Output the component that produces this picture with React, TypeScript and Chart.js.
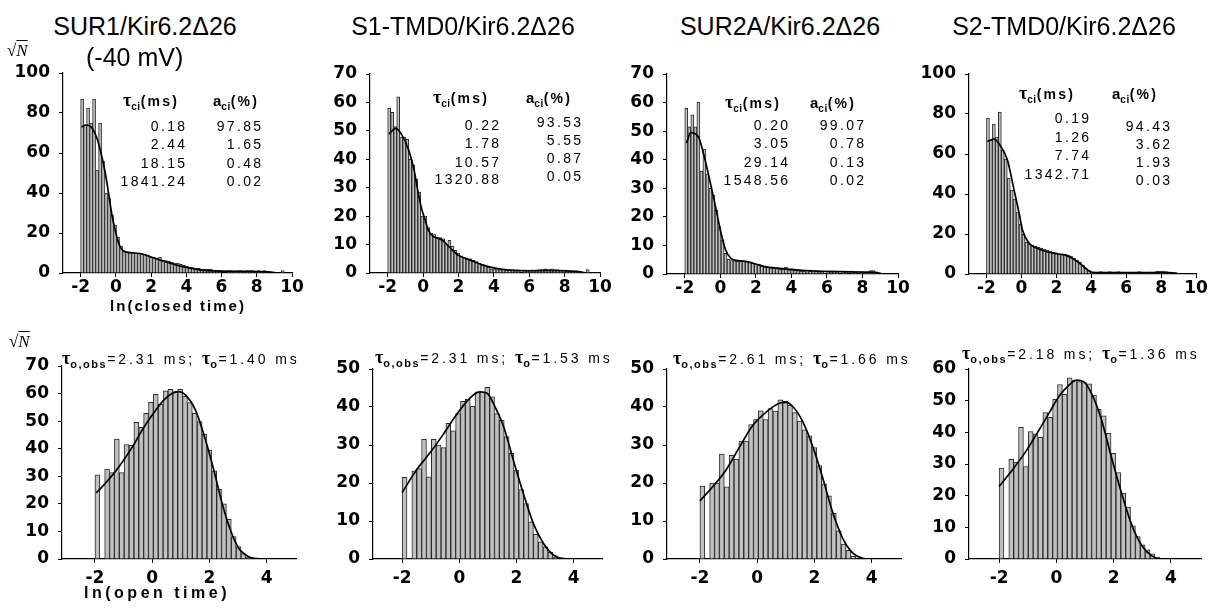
import React, { useEffect, useRef } from 'react';
import { Chart, registerables } from 'chart.js';

Chart.register(...registerables);

// ---------- data ----------
const BIN_START = -2;
const BIN_WIDTH = 0.17;

const closedTicks = [-2, 0, 2, 4, 6, 8, 10];
const openTicks = [-2, 0, 2, 4];

const titles = ['SUR1/Kir6.2\u039426', 'S1-TMD0/Kir6.2\u039426', 'SUR2A/Kir6.2\u039426', 'S2-TMD0/Kir6.2\u039426'];

// closed-time histograms (sqrt N per bin)
const sur1Closed = [87, 74, 82.5, 75, 87, 51.5, 75, 56, 40, 37.5, 29, 24, 18, 13.5, 11, 10.5, 10.5, 10.5, 10, 10, 9.5, 9.5, 9, 8, 8, 7.5, 7.8, 6.5, 6.2, 6, 5.5, 5, 5, 4.3, 3.8, 3.5, 3, 2.7, 2.5, 2.3, 2, 1.8, 1.8, 1.8, 1.5, 1.5, 1.2, 0, 0, 1.2, 1.2, 1, 1.2, 1.2, 1, 1.2, 1.2, 1.2, 1, 1.2, 1, 1.2, 0.8, 0.5, 0, 0, 0, 1.2];
const sur1ClosedFitX = [-1.95, -1.7, -1.4, -1.1, -0.9, -0.6, -0.4, -0.2, 0, 0.2, 0.4, 0.7, 1.0, 1.5, 2.0, 2.5, 3.0, 3.5, 4.0, 4.5, 5.0, 5.5, 6.0, 7.0, 8.0, 8.8, 9.1];
const sur1ClosedFitY = [73, 74, 73, 68, 62, 50, 39, 28, 20, 14, 11.2, 10.3, 10, 9.5, 8, 6.5, 5.2, 3.8, 2.8, 2, 1.3, 1, 0.9, 0.8, 0.7, 0.4, 0];

const s1Closed = [58, 56.5, 51.5, 62, 47.8, 47.8, 47, 40, 38, 33, 28.5, 20, 20, 16, 14, 13.5, 12.5, 12.5, 12, 10, 11.5, 9.5, 8, 7, 6, 5.5, 5, 5, 4.5, 4, 3.5, 3, 2.5, 2, 1.5, 1.5, 1.2, 1.2, 1.2, 1, 1, 0.8, 0.8, 1, 0, 1, 0.8, 1, 1, 1, 1.2, 1.2, 1.5, 1.2, 1.5, 1.2, 1.2, 1, 1, 0.8, 0.5, 0.5, 0.5, 0.3, 0, 0, 1.2];
const s1ClosedFitX = [-1.93, -1.55, -1.2, -0.8, -0.5, -0.33, -0.1, 0.1, 0.3, 0.55, 0.85, 1.1, 1.5, 2.0, 2.6, 3.0, 3.5, 4.0, 4.5, 5.0, 6.0, 7.0, 8.0, 8.8, 9.2];
const s1ClosedFitY = [48.9, 50.9, 48.6, 43, 36, 30, 23, 19, 15, 13, 12.2, 11.5, 9, 6.2, 4.7, 3.7, 2.6, 1.8, 1.3, 1, 0.8, 0.9, 0.8, 0.5, 0];

const sur2aClosed = [58, 51.5, 55.7, 51.5, 60.2, 36, 43.7, 35, 30, 27.5, 22.4, 16.6, 12, 7.2, 5.1, 4.7, 4.6, 4.5, 4.5, 4.4, 4.3, 4, 3.8, 3.5, 3.2, 2.8, 2.6, 2.4, 2.2, 2, 1.9, 1.7, 1.6, 2.4, 1.5, 1.4, 1.3, 1.2, 1, 1, 0.8, 1, 0.5, 1, 0.8, 1, 0, 1, 0.8, 1, 0.8, 0, 1, 0.8, 0, 1, 0.8, 0, 0.8, 0.5, 0.8, 1.2, 1.2, 0.5, 0];
const sur2aClosedFitX = [-1.9, -1.67, -1.23, -0.94, -0.6, -0.27, 0, 0.3, 0.6, 1.0, 1.55, 2.0, 2.5, 3.3, 4.05, 4.8, 6.75, 8.7, 9.15];
const sur2aClosedFitY = [45.8, 49.5, 48, 42, 33, 23.6, 15.4, 8.4, 5.5, 4.7, 4.3, 3.5, 2.6, 2, 1.6, 1.2, 0.8, 0.6, 0];

const s2Closed = [78, 67, 75, 68.5, 81, 62, 57.5, 48, 42, 37.5, 31, 25, 20, 16, 15, 14.5, 14, 13.5, 13, 12.5, 12, 11.5, 11, 10.5, 10, 10, 10, 9.5, 9, 8, 7, 6, 4.5, 3, 2, 1, 1, 1, 1.2, 1, 1, 1.2, 1, 1, 1.2, 1, 1, 0.8, 1, 1, 1, 1.2, 1, 0.8, 1, 1, 1, 1.5, 1.5, 1.5, 1.2, 1, 1, 0.8, 0.5];
const s2ClosedFitX = [-1.95, -1.56, -1.18, -0.8, -0.42, -0.13, 0.06, 0.44, 0.9, 1.56, 2.13, 2.6, 3.08, 3.46, 3.93, 4.2, 5.9, 8.4, 9.0];
const s2ClosedFitY = [66.3, 67.4, 63.8, 57, 42, 30.4, 22, 15.4, 12.9, 10.9, 10, 9.2, 7, 4.5, 1.2, 0.7, 0.7, 0.7, 0];

// open-time histograms
const sur1Open = [30.5, 0, 32.6, 31.3, 43.5, 31.3, 41.5, 41.2, 49.6, 47.8, 52.8, 56.8, 59.7, 56.1, 61, 61.5, 60.7, 61.5, 59, 56.7, 52.8, 49.8, 45.3, 39.5, 32, 25.3, 20, 14.4, 8.1, 4.5, 2, 0.6];
const sur1OpenFitX = [-1.95, -1.63, -1.16, -0.7, -0.35, 0, 0.35, 0.7, 0.93, 1.16, 1.51, 1.86, 2.15, 2.44, 2.73, 3.02, 3.37, 3.72, 4.3];
const sur1OpenFitY = [24, 27.5, 33.5, 40.5, 46.8, 52.2, 57, 60.1, 60.7, 59.5, 54, 43.2, 32.3, 20.2, 10.5, 3.9, 0.85, 0.1, 0];

const s1Open = [21.5, 0, 23.2, 23.8, 31.5, 21.6, 31.5, 30, 29.3, 35.7, 33.7, 38.3, 41.5, 42, 40.2, 44, 44, 45.2, 42.7, 38.3, 36.5, 32.2, 27.8, 23.4, 18.3, 14.6, 9.8, 6.5, 4.5, 3.2, 1.8, 0.5];
const s1OpenFitX = [-2, -1.5, -1.04, -0.58, -0.11, 0.36, 0.71, 0.97, 1.22, 1.55, 1.89, 2.24, 2.59, 2.95, 3.3, 3.65, 4.0];
const s1OpenFitY = [17.5, 23.4, 27.8, 32.6, 37.9, 42.3, 44, 43.6, 40.5, 34.8, 26, 17.2, 9.3, 4, 1, 0.1, 0];

const sur2aOpen = [19.2, 0, 20, 20, 27.6, 19, 27.3, 26.3, 31, 31, 35.4, 36.7, 39, 36.7, 39.6, 38.9, 41.9, 41.5, 40.5, 38.5, 36.3, 34, 32.4, 29.3, 24.6, 19.8, 16.6, 12, 7.4, 3.9, 2.3, 0.7];
const sur2aOpenFitX = [-2, -1.57, -1.1, -0.63, -0.17, 0.3, 0.77, 1, 1.23, 1.58, 1.93, 2.28, 2.63, 2.98, 3.33, 3.68, 4.03];
const sur2aOpenFitY = [15.3, 18.9, 23.3, 29.3, 35, 38.6, 41, 41.2, 40.2, 36.3, 29.8, 21.5, 12.4, 5.5, 1.6, 0.2, 0];

const s2Open = [28.7, 0, 31.5, 30.6, 41.6, 29.2, 40.2, 39.5, 38.4, 46.2, 44.7, 50.4, 55.1, 52, 57.2, 56.5, 56, 55.7, 55.3, 51.8, 47.3, 45.2, 39.7, 33.4, 27.3, 20.8, 16.4, 10.5, 7.1, 4.5, 2.9, 1.6, 0.5];
const s2OpenFitX = [-2, -1.53, -1.07, -0.6, -0.26, 0.09, 0.44, 0.7, 0.95, 1.25, 1.58, 1.92, 2.27, 2.62, 2.97, 3.33, 3.7, 4.1];
const s2OpenFitY = [22.9, 28.2, 33.9, 40.8, 46, 51.3, 54.9, 56.5, 56, 51.8, 43.8, 32.2, 21, 11, 4.4, 1, 0, 0];

// fitted parameters (text)
const sur1Tau = ['0.18', '2.44', '18.15', '1841.24'];
const sur1Amp = ['97.85', '1.65', '0.48', '0.02'];
const s1Tau = ['0.22', '1.78', '10.57', '1320.88'];
const s1Amp = ['93.53', '5.55', '0.87', '0.05'];
const sur2aTau = ['0.20', '3.05', '29.14', '1548.56'];
const sur2aAmp = ['99.07', '0.78', '0.13', '0.02'];
const s2Tau = ['0.19', '1.26', '7.74', '1342.71'];
const s2Amp = ['94.43', '3.62', '1.93', '0.03'];
const openTauObs = ['2.31', '2.31', '2.61', '2.18'];
const openTau = ['1.40', '1.53', '1.66', '1.36'];

// ---------- layout ----------
const W = 1212;
const H = 608;
const SANS = '"Liberation Sans", Arial, Helvetica, sans-serif';
const SERIF = '"Liberation Serif", "Times New Roman", serif';
const TICK_FONT = { family: '"DejaVu Sans", sans-serif', weight: 'bold' as const, size: 17 };

type PanelSpec = {
  counts: number[];
  fitX: number[];
  fitY: number[];
  left: number;
  right: number;
  top: number;
  bottom: number;
  xMin: number;
  xMax: number;
  xTicks: number[];
  yMax: number;
  yStep: number;
  xPad: number;
};

const panels: PanelSpec[] = [
  { counts: sur1Closed, fitX: sur1ClosedFitX, fitY: sur1ClosedFitY, left: 63, right: 292, top: 73, bottom: 273, xMin: -3, xMax: 10, xTicks: closedTicks, yMax: 100, yStep: 20, xPad: 0 },
  { counts: s1Closed, fitX: s1ClosedFitX, fitY: s1ClosedFitY, left: 370, right: 600, top: 74, bottom: 273, xMin: -3, xMax: 10, xTicks: closedTicks, yMax: 70, yStep: 10, xPad: 0 },
  { counts: sur2aClosed, fitX: sur2aClosedFitX, fitY: sur2aClosedFitY, left: 667, right: 898, top: 74, bottom: 274, xMin: -3, xMax: 10, xTicks: closedTicks, yMax: 70, yStep: 10, xPad: 0 },
  { counts: s2Closed, fitX: s2ClosedFitX, fitY: s2ClosedFitY, left: 969, right: 1196, top: 74, bottom: 274, xMin: -3, xMax: 10, xTicks: closedTicks, yMax: 100, yStep: 20, xPad: 0 },
  { counts: sur1Open, fitX: sur1OpenFitX, fitY: sur1OpenFitY, left: 62, right: 296, top: 366, bottom: 559, xMin: -3.15, xMax: 5.02, xTicks: openTicks, yMax: 70, yStep: 10, xPad: 5 },
  { counts: s1Open, fitX: s1OpenFitX, fitY: s1OpenFitY, left: 373, right: 602, top: 369, bottom: 559, xMin: -3.02, xMax: 4.99, xTicks: openTicks, yMax: 50, yStep: 10, xPad: 5 },
  { counts: sur2aOpen, fitX: sur2aOpenFitX, fitY: sur2aOpenFitY, left: 667, right: 901, top: 369, bottom: 559, xMin: -3.15, xMax: 5.02, xTicks: openTicks, yMax: 50, yStep: 10, xPad: 5 },
  { counts: s2Open, fitX: s2OpenFitX, fitY: s2OpenFitY, left: 969, right: 1201, top: 369, bottom: 559, xMin: -3.05, xMax: 5.05, xTicks: openTicks, yMax: 60, yStep: 10, xPad: 5 },
];

const PAD_L = 60;
const PAD_R = 24;
const PAD_T = 12;
const AX_H = 36;

function Panel({ spec }: { spec: PanelSpec }) {
  const ref = useRef<HTMLCanvasElement | null>(null);
  const w = spec.right - spec.left + PAD_L + PAD_R;
  const h = spec.bottom - spec.top + PAD_T + AX_H;
  useEffect(() => {
    if (!ref.current) return;
    const axisGrid = { drawOnChartArea: false, drawTicks: true, tickLength: 4, color: '#000', lineWidth: 1, offset: false };
    const axisBorder = { display: true, color: '#000', width: 1.2 };
    const chart = new Chart(ref.current, {
      type: 'bar',
      data: {
        datasets: [
          {
            type: 'line',
            data: spec.fitX.map((x, i) => ({ x, y: spec.fitY[i] })),
            borderColor: '#000',
            borderWidth: 1.7,
            pointRadius: 0,
            cubicInterpolationMode: 'monotone',
            fill: false,
            order: 0,
          } as any,
          {
            type: 'bar',
            data: spec.counts.map((y, i) => ({ x: BIN_START + BIN_WIDTH * (i + 0.5), y })),
            backgroundColor: '#c0c0c0',
            borderColor: '#2b2b2b',
            borderWidth: 1,
            borderSkipped: 'bottom',
            barPercentage: 1,
            categoryPercentage: 1,
            order: 1,
          } as any,
        ],
      },
      options: {
        responsive: false,
        animation: false,
        devicePixelRatio: 1,
        layout: { padding: { left: 0, right: PAD_R, top: PAD_T, bottom: 0 }, autoPadding: false },
        plugins: { legend: { display: false }, tooltip: { enabled: false } },
        scales: {
          x: {
            type: 'linear',
            min: spec.xMin,
            max: spec.xMax,
            offset: false,
            grid: axisGrid,
            border: axisBorder,
            ticks: { font: TICK_FONT, color: '#000', padding: spec.xPad, maxRotation: 0, autoSkip: false },
            afterBuildTicks: (s: any) => {
              s.ticks = spec.xTicks.map((v) => ({ value: v }));
            },
            afterFit: (s: any) => {
              s.height = AX_H;
              s.paddingLeft = 0;
              s.paddingRight = 0;
            },
          },
          y: {
            type: 'linear',
            min: 0,
            max: spec.yMax,
            grid: axisGrid,
            border: axisBorder,
            ticks: { font: TICK_FONT, color: '#000', padding: 9, stepSize: spec.yStep },
            afterFit: (s: any) => {
              s.width = PAD_L;
              s.paddingTop = 0;
              s.paddingBottom = 0;
            },
          },
        },
      } as any,
    });
    return () => chart.destroy();
  }, []);
  return (
    <canvas
      ref={ref}
      width={w}
      height={h}
      style={{ position: 'absolute', left: spec.left - PAD_L, top: spec.top - PAD_T, width: w, height: h }}
    />
  );
}

const abs = (extra: React.CSSProperties): React.CSSProperties => ({
  position: 'absolute',
  whiteSpace: 'nowrap',
  lineHeight: 1,
  color: '#000',
  ...extra,
});

function SqrtN({ left, top }: { left: number; top: number }) {
  return (
    <div style={abs({ left, top, fontFamily: SERIF, fontSize: 17 })}>
      {'\u221A'}
      <span style={{ textDecoration: 'overline', fontStyle: 'italic' }}>N</span>
    </div>
  );
}

function ClosedTable({ tauLeft, ampLeft, headY, tauRight, ampRight, tauRows, ampRows, taus, amps }: any) {
  const head: React.CSSProperties = { fontFamily: SANS, fontWeight: 'bold', fontSize: 14, letterSpacing: 2.2 };
  const sub: React.CSSProperties = { fontSize: 10, position: 'relative', top: 4, letterSpacing: 0.5 };
  const val: React.CSSProperties = { fontFamily: SANS, fontSize: 14, letterSpacing: 2.3 };
  return (
    <>
      <div style={abs({ left: tauLeft, top: headY, transform: 'translateY(-50%)', ...head })}>
        <span style={{ fontFamily: SERIF, fontSize: 18, letterSpacing: 0 }}>{'\u03C4'}</span>
        <span style={sub}>ci</span>(ms)
      </div>
      <div style={abs({ left: ampLeft, top: headY, transform: 'translateY(-50%)', ...head })}>
        <span style={{ fontSize: 15, letterSpacing: 0 }}>a</span>
        <span style={sub}>ci</span>(%)
      </div>
      {taus.map((t: string, i: number) => (
        <div key={'t' + i} style={abs({ right: W - tauRight - 2.3, top: tauRows[i], transform: 'translateY(-50%)', ...val })}>
          {t}
        </div>
      ))}
      {amps.map((t: string, i: number) => (
        <div key={'a' + i} style={abs({ right: W - ampRight - 2.3, top: ampRows[i], transform: 'translateY(-50%)', ...val })}>
          {t}
        </div>
      ))}
    </>
  );
}

function OpenLabel({ left, cy, obs, tau }: { left: number; cy: number; obs: string; tau: string }) {
  const t: React.CSSProperties = { fontFamily: SERIF, fontWeight: 'bold', fontSize: 18, letterSpacing: 0 };
  const sub: React.CSSProperties = { fontFamily: SANS, fontWeight: 'bold', fontSize: 11, position: 'relative', top: 4, letterSpacing: 1.5 };
  return (
    <div style={abs({ left, top: cy, transform: 'translateY(-50%)', fontFamily: SANS, fontSize: 14, letterSpacing: 2.9 })}>
      <span style={t}>{'\u03C4'}</span>
      <span style={sub}>o,obs</span>={obs} ms; <span style={t}>{'\u03C4'}</span>
      <span style={sub}>o</span>={tau} ms
    </div>
  );
}

export default function App() {
  const titleStyle = (cx: number): React.CSSProperties =>
    abs({ left: cx, top: 14, transform: 'translateX(-50%)', fontFamily: SANS, fontSize: 25, lineHeight: '25px' });
  return (
    <div style={{ position: 'fixed', left: 0, top: 0, width: W, height: H, background: '#fff', overflow: 'hidden' }}>
      {panels.map((p, i) => (
        <Panel key={i} spec={p} />
      ))}

      <div style={titleStyle(145)}>{titles[0]}</div>
      <div style={titleStyle(463)}>{titles[1]}</div>
      <div style={titleStyle(780)}>{titles[2]}</div>
      <div style={titleStyle(1064)}>{titles[3]}</div>
      <div style={abs({ left: 86, top: 45, fontFamily: SANS, fontSize: 25, lineHeight: '25px' })}>(-40 mV)</div>

      <SqrtN left={7} top={42} />
      <SqrtN left={9} top={333} />

      <ClosedTable tauLeft={123} ampLeft={213} headY={100} tauRight={185} ampRight={261}
        tauRows={[126, 144, 163, 181]} ampRows={[126, 144, 163, 181]} taus={sur1Tau} amps={sur1Amp} />
      <ClosedTable tauLeft={433} ampLeft={526} headY={97} tauRight={499} ampRight={581}
        tauRows={[125, 143, 162, 179]} ampRows={[122, 140, 158, 176]} taus={s1Tau} amps={s1Amp} />
      <ClosedTable tauLeft={725} ampLeft={810} headY={102} tauRight={788} ampRight={864}
        tauRows={[125, 143, 162, 180]} ampRows={[125, 143, 162, 180]} taus={sur2aTau} amps={sur2aAmp} />
      <ClosedTable tauLeft={1019} ampLeft={1112} headY={93} tauRight={1089} ampRight={1170}
        tauRows={[118, 137, 155, 174]} ampRows={[126, 144, 162, 180]} taus={s2Tau} amps={s2Amp} />

      <OpenLabel left={62} cy={358} obs={openTauObs[0]} tau={openTau[0]} />
      <OpenLabel left={375} cy={357} obs={openTauObs[1]} tau={openTau[1]} />
      <OpenLabel left={673} cy={358} obs={openTauObs[2]} tau={openTau[2]} />
      <OpenLabel left={962} cy={353} obs={openTauObs[3]} tau={openTau[3]} />

      <div style={abs({ left: 178, top: 305, transform: 'translate(-50%, -50%)', fontFamily: SANS, fontWeight: 'bold', fontSize: 15, letterSpacing: 2 })}>
        ln(closed time)
      </div>
      <div style={abs({ left: 157, top: 593, transform: 'translate(-50%, -50%)', fontFamily: SANS, fontWeight: 'bold', fontSize: 16, letterSpacing: 3.5 })}>
        ln(open time)
      </div>
    </div>
  );
}
